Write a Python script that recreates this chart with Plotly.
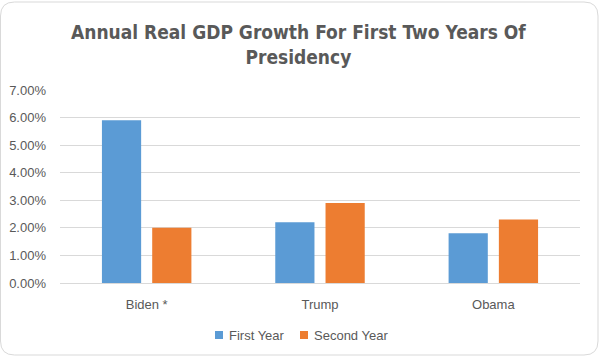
import plotly.graph_objects as go

categories = ["Biden *", "Trump", "Obama"]
first_year = [0.059, 0.022, 0.018]
second_year = [0.020, 0.029, 0.023]
series_names = ["First Year", "Second Year"]
series_colors = ["#5b9bd5", "#ed7d31"]
title_text = "Annual Real GDP Growth For First Two Years Of<br>Presidency"

W, H = 601, 357
L, R, T, B = 60, 21, 90, 74
pw, ph = W - L - R, H - T - B

def px(x):
    return (x - L) / pw

def py(y):
    return (H - B - y) / ph

fig = go.Figure()
fig.add_trace(go.Bar(x=categories, y=first_year, name=series_names[0],
                     marker=dict(color=series_colors[0], line=dict(width=0))))
fig.add_trace(go.Bar(x=categories, y=second_year, name=series_names[1],
                     marker=dict(color=series_colors[1], line=dict(width=0))))

# rounded chart border
x0, x1, y0, y1, r = 0.5, 598, 2, 355, 14
path = (f"M {px(x0+r)},{py(y0)} L {px(x1-r)},{py(y0)} Q {px(x1)},{py(y0)} {px(x1)},{py(y0+r)} "
        f"L {px(x1)},{py(y1-r)} Q {px(x1)},{py(y1)} {px(x1-r)},{py(y1)} "
        f"L {px(x0+r)},{py(y1)} Q {px(x0)},{py(y1)} {px(x0)},{py(y1-r)} "
        f"L {px(x0)},{py(y0+r)} Q {px(x0)},{py(y0)} {px(x0+r)},{py(y0)} Z")

shapes = [dict(type="path", xref="paper", yref="paper", path=path,
               line=dict(color="#d9d9d9", width=1), fillcolor="rgba(0,0,0,0)", layer="below")]
annotations = [dict(text=title_text, xref="paper", yref="paper", x=px(298), y=py(44),
                    xanchor="center", yanchor="middle", showarrow=False,
                    font=dict(family="Liberation Sans Narrow, DejaVu Sans Condensed, Arial Narrow, sans-serif",
                              size=19, color="#595959", weight="bold"),
                    align="center")]

# legend (manual, Excel style)
leg_x = [215, 300]
for name, color, lx in zip(series_names, series_colors, leg_x):
    shapes.append(dict(type="rect", xref="paper", yref="paper",
                       x0=px(lx), x1=px(lx + 8), y0=py(339), y1=py(331),
                       fillcolor=color, line=dict(width=0)))
    annotations.append(dict(text=name, xref="paper", yref="paper", x=px(lx + 12), y=py(335),
                            xanchor="left", yanchor="middle", showarrow=False,
                            font=dict(size=13, color="#595959")))

fig.update_layout(
    width=W, height=H, autosize=False,
    margin=dict(l=L, r=R, t=T, b=B, pad=0, autoexpand=False),
    paper_bgcolor="white", plot_bgcolor="white",
    barmode="group", bargap=0.42, bargroupgap=0.22,
    font=dict(family="Liberation Sans, Arial, sans-serif", size=13, color="#595959"),
    showlegend=False,
    xaxis=dict(showgrid=False, showline=False, ticks="", tickfont=dict(size=13, color="#595959"),
               ticklabelstandoff=12, automargin=False),
    yaxis=dict(range=[0, 0.07], dtick=0.01, tickformat=".2%", showgrid=True,
               gridcolor="#d9d9d9", gridwidth=1, zeroline=True, zerolinecolor="#d9d9d9",
               zerolinewidth=1, showline=False, ticks="", tickfont=dict(size=13, color="#595959"),
               ticklabelstandoff=13, automargin=False),
    shapes=shapes,
    annotations=annotations,
)

fig.write_html("out.html", config={"displayModeBar": False},
               post_script="document.body.style.margin='0';document.body.style.overflow='hidden';")
